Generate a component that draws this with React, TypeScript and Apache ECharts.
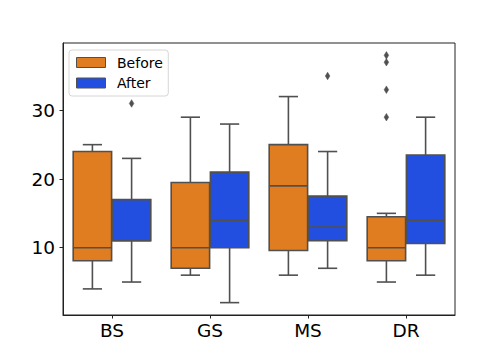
import React, { useEffect, useRef } from "react";
import * as echarts from "echarts";

const categories = ["BS", "GS", "MS", "DR"];
const hues = ["Before", "After"];
// [low whisker, Q1, median, Q3, high whisker]
const beforeStats = [
  [4, 8.1, 10, 24, 25],
  [6, 7, 10, 19.5, 29],
  [6, 9.6, 19, 25, 32],
  [5, 8.1, 10, 14.5, 15],
];
const afterStats = [
  [5, 11, 11, 17, 23],
  [2, 10, 14, 21, 28],
  [7, 11, 13, 17.5, 24],
  [6, 10.6, 14, 23.5, 29],
];
// [category index, value]
const beforeOutliers = [
  [3, 29],
  [3, 33],
  [3, 37],
  [3, 38],
];
const afterOutliers = [
  [0, 31],
  [2, 35],
];
const yTicks = [10, 20, 30];

const colors = ["#df7d20", "#224fdf"];
const gray = "#505050";
const font = "DejaVu Sans";

function boxRender(hueIdx: number) {
  return (params: any, api: any) => {
    const cat = api.value(0);
    const low = api.value(1);
    const q1 = api.value(2);
    const med = api.value(3);
    const q3 = api.value(4);
    const high = api.value(5);
    const band = api.size([1, 0])[0];
    const off = band * 0.2 * (hueIdx === 0 ? -1 : 1);
    const w = band * 0.4 * 0.98;
    const cx = api.coord([cat, med])[0] + off;
    const yLow = api.coord([cat, low])[1];
    const yQ1 = api.coord([cat, q1])[1];
    const yMed = api.coord([cat, med])[1];
    const yQ3 = api.coord([cat, q3])[1];
    const yHigh = api.coord([cat, high])[1];
    const ls = { stroke: gray, lineWidth: 1.6 };
    return {
      type: "group",
      children: [
        { type: "line", shape: { x1: cx, y1: yLow, x2: cx, y2: yQ1 }, style: ls },
        { type: "line", shape: { x1: cx, y1: yQ3, x2: cx, y2: yHigh }, style: ls },
        { type: "line", shape: { x1: cx - w / 4, y1: yLow, x2: cx + w / 4, y2: yLow }, style: ls },
        { type: "line", shape: { x1: cx - w / 4, y1: yHigh, x2: cx + w / 4, y2: yHigh }, style: ls },
        {
          type: "rect",
          shape: { x: cx - w / 2, y: yQ3, width: w, height: yQ1 - yQ3 },
          style: { fill: colors[hueIdx], stroke: gray, lineWidth: 1.6 },
        },
        { type: "line", shape: { x1: cx - w / 2, y1: yMed, x2: cx + w / 2, y2: yMed }, style: ls },
      ],
    };
  };
}

function outlierRender(hueIdx: number) {
  return (params: any, api: any) => {
    const cat = api.value(0);
    const v = api.value(1);
    const band = api.size([1, 0])[0];
    const off = band * 0.2 * (hueIdx === 0 ? -1 : 1);
    const p = api.coord([cat, v]);
    const cx = p[0] + off;
    const cy = p[1];
    const hw = 2.3;
    const hh = 3.8;
    return {
      type: "polygon",
      shape: { points: [[cx, cy - hh], [cx + hw, cy], [cx, cy + hh], [cx - hw, cy]] },
      style: { fill: gray, stroke: gray, lineWidth: 0.5 },
    };
  };
}

export default function App() {
  const ref = useRef<HTMLDivElement>(null);
  useEffect(() => {
    if (!ref.current) return;
    const chart = echarts.init(ref.current, null, { renderer: "svg" });
    const mk = (stats: number[][]) => stats.map((s, i) => [i, ...s]);
    chart.setOption({
      animation: false,
      backgroundColor: "#ffffff",
      grid: {
        left: 63,
        right: 49,
        top: 43,
        bottom: 45,
        show: true,
        borderColor: "#222",
        borderWidth: 1,
        backgroundColor: "transparent",
      },
      legend: {
        orient: "vertical",
        left: 69,
        top: 50,
        padding: [5.5, 5.5, 6, 7],
        itemGap: 6.5,
        itemWidth: 29,
        itemHeight: 10,
        icon: "rect",
        borderColor: "#d6d6d6",
        borderWidth: 1,
        borderRadius: 3,
        backgroundColor: "#fff",
        textStyle: {
          fontFamily: font,
          fontSize: 14,
          lineHeight: 14,
          color: "#000",
          padding: [0, 0, 0, 6.5],
        },
        data: hues.map((h, i) => ({
          name: h,
          itemStyle: { color: colors[i], borderColor: gray, borderWidth: 1 },
        })),
      },
      xAxis: {
        type: "category",
        data: categories,
        axisLine: { show: true, lineStyle: { color: "#222", width: 1 } },
        axisTick: { show: true, alignWithLabel: true, length: 3.5, lineStyle: { color: "#222" } },
        axisLabel: { fontFamily: font, fontSize: 18.5, color: "#000", margin: 6 },
        splitLine: { show: false },
      },
      yAxis: {
        type: "value",
        min: 0.2,
        max: 39.8,
        axisLine: { show: true, lineStyle: { color: "#222", width: 1 } },
        axisTick: { show: true, length: 3.5, lineStyle: { color: "#222" }, customValues: yTicks },
        axisLabel: { fontFamily: font, fontSize: 18.5, color: "#000", margin: 8, customValues: yTicks },
        splitLine: { show: false },
      },
      series: [
        {
          name: hues[0],
          type: "custom",
          itemStyle: { color: colors[0] },
          renderItem: boxRender(0),
          encode: { x: 0, y: [1, 2, 3, 4, 5] },
          data: mk(beforeStats),
        },
        {
          name: hues[1],
          type: "custom",
          itemStyle: { color: colors[1] },
          renderItem: boxRender(1),
          encode: { x: 0, y: [1, 2, 3, 4, 5] },
          data: mk(afterStats),
        },
        {
          name: hues[0],
          type: "custom",
          itemStyle: { color: colors[0] },
          renderItem: outlierRender(0),
          encode: { x: 0, y: 1 },
          data: beforeOutliers,
        },
        {
          name: hues[1],
          type: "custom",
          itemStyle: { color: colors[1] },
          renderItem: outlierRender(1),
          encode: { x: 0, y: 1 },
          data: afterOutliers,
        },
      ],
    });
    return () => chart.dispose();
  }, []);
  return (
    <div
      ref={ref}
      style={{ position: "fixed", left: 0, top: 0, width: 504, height: 360 }}
    />
  );
}
